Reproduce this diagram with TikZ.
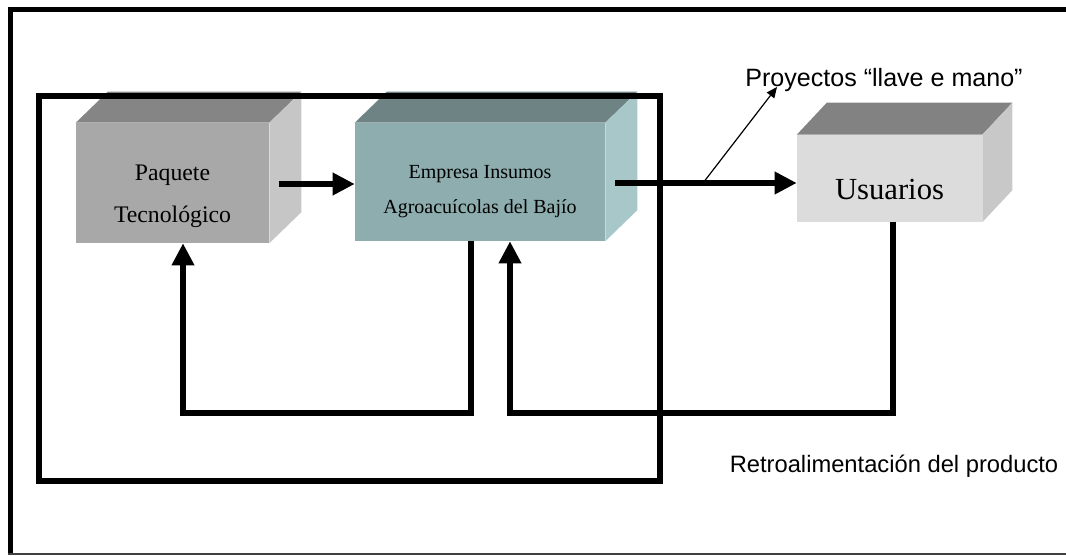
\documentclass[tikz,border=0pt]{standalone}
\usepackage{fontspec}
\setmainfont{Liberation Serif}
\newfontfamily\arialfont{Liberation Sans}
\usetikzlibrary{arrows.meta,calc}
\definecolor{pqfront}{HTML}{A8A8A8}
\definecolor{pqtop}{HTML}{858585}
\definecolor{pqside}{HTML}{C6C6C6}
\definecolor{emfront}{HTML}{8DADAE}
\definecolor{emtop}{HTML}{6E8384}
\definecolor{emside}{HTML}{A8C7C9}
\definecolor{usfront}{HTML}{DCDCDC}
\definecolor{ustop}{HTML}{828282}
\definecolor{usside}{HTML}{C8C8C8}

\begin{document}
\begin{tikzpicture}[x=0.75pt, y=-0.75pt,
    front/.style={rectangle, inner sep=0pt},
    boxtext/.style={align=center},
    flow/.style={line width=4.5pt, -{Triangle[length=16.5pt,width=16pt]}},
    fbline/.style={line width=4.5pt, -{Triangle[length=16.5pt,width=16pt]}},
    note/.style={font=\arialfont\fontsize{17.8}{21}\selectfont, anchor=base}]
      \useasboundingbox (0,0) rectangle (1066,556);

      % Front faces
      \node[front, fill=pqfront, minimum width=144.75pt, minimum height=90pt] (paquete) at (172.5,183) {};
      \node[front, fill=emfront, minimum width=187.5pt, minimum height=88.5pt] (empresa) at (480,182) {};
      \node[front, fill=usfront, minimum width=138.75pt, minimum height=65.25pt] (usuarios) at (889.5,178.5) {};

      % Top and side faces
      \fill[pqtop] (paquete.north west) -- ++(32,-31) -- ($(paquete.north east)+(32,-31)$) -- (paquete.north east) -- cycle;
      \fill[pqside] (paquete.north east) -- ++(32,-31) -- ($(paquete.south east)+(32,-31)$) -- (paquete.south east) -- cycle;
      \fill[emtop] (empresa.north west) -- ++(32,-31) -- ($(empresa.north east)+(32,-31)$) -- (empresa.north east) -- cycle;
      \fill[emside] (empresa.north east) -- ++(32,-31) -- ($(empresa.south east)+(32,-31)$) -- (empresa.south east) -- cycle;
      \fill[ustop] (usuarios.north west) -- ++(30,-32) -- ($(usuarios.north east)+(30,-32)$) -- (usuarios.north east) -- cycle;
      \fill[usside] (usuarios.north east) -- ++(30,-32) -- ($(usuarios.south east)+(30,-32)$) -- (usuarios.south east) -- cycle;

      % Box texts
      \node[boxtext, font=\fontsize{17.8}{31.5}\selectfont] (paqtext) at ([yshift=-10pt]paquete.center) {Paquete\\Tecnológico};
      \node[boxtext, font=\fontsize{15}{26.25}\selectfont] (emptext) at ([yshift=-7.5pt]empresa.center) {Empresa Insumos\\Agroacuícolas del Bajío};
      \node[boxtext, font=\fontsize{23}{27}\selectfont] (ustext) at ([yshift=-8.5pt]usuarios.center) {Usuarios};

      % Labels
      \node[note, font=\arialfont\fontsize{18.8}{22}\selectfont] (proyectos) at (884,87) {Proyectos “llave e mano”};
      \node[note] (retro) at (894,472) {Retroalimentación del producto};

      % Arrows
      \draw[flow] ([xshift=7.5pt,yshift=-0.75pt]paquete.east) -- ([yshift=-0.75pt]paquete.east -| empresa.west);
      \draw[flow] ([xshift=7.5pt,yshift=-0.75pt]empresa.east) -- ([yshift=-0.75pt]empresa.east -| usuarios.west);
      \coordinate (split) at (703,183);
      \coordinate (tip) at (777,87);
      \draw[line width=0.9pt, -{Triangle[length=8pt,width=7pt]}] (split) -- (tip);

      % Feedback
      \draw[fbline] ($(empresa.south)+(-9,0)$) |- ($(paquete.south)+(10.5,170)$) -- ($(paquete.south)+(10.5,0)$);
      \draw[fbline] ($(usuarios.south)+(3.5,0)$) |- ($(empresa.south)+(30,172)$) -- ($(empresa.south)+(30,0)$);

      % Frames
      \draw[line width=4.5pt] (39,96) rectangle (660,481);
      \draw[line width=3.75pt] (10,553) -- (10,10) -- (1070,10);
      \draw[line width=1.5pt, black!75] (8,553.5) -- (1066,553.5);
    \end{tikzpicture}
\end{document}
